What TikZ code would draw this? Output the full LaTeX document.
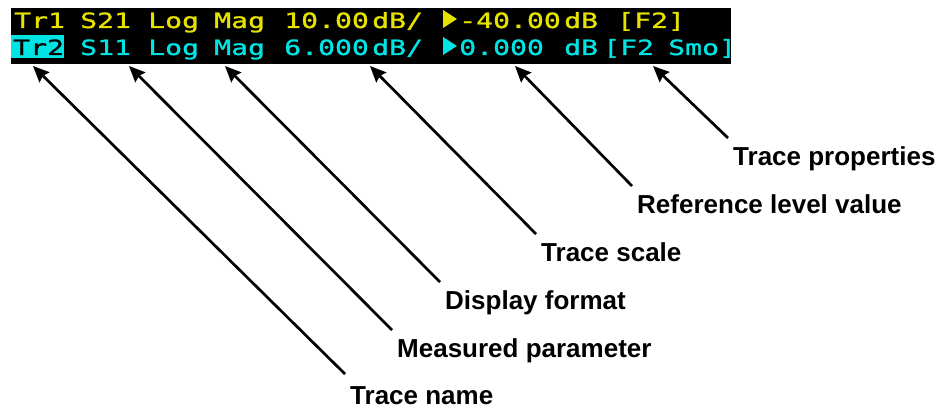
\documentclass[tikz,border=0pt]{standalone}
\usepackage{fontspec}
\setmainfont{Liberation Sans}
\newfontfamily\scrfont[FakeStretch=1.34,FakeBold=1.2]{DejaVu Sans Mono}
\usetikzlibrary{arrows.meta}
\definecolor{scryellow}{RGB}{230,226,0}
\definecolor{scrcyan}{RGB}{0,228,228}
\begin{document}
\begin{tikzpicture}[x=1pt,y=-1pt,
  scr/.style={inner sep=0pt, anchor=base west, font=\scrfont\fontsize{21}{21}\selectfont},
  ylw/.style={scr, text=scryellow},
  cyn/.style={scr, text=scrcyan},
  lbl/.style={inner sep=0pt, anchor=base west, font=\fontsize{26}{26}\selectfont\bfseries},
  arr/.style={line width=2.7pt, -{Stealth[length=16pt,width=14pt,inset=2pt]}}
]
\useasboundingbox (0,0) rectangle (944,409);
% screen bar
\fill[black] (11,8) rectangle (731,64);
% line 1
\node[ylw] (a1) at (14,28) {Tr1};
\node[ylw] (a2) at (80,28) {S21};
\node[ylw] (a3) at (148,28) {Log};
\node[ylw] (a4) at (214,28) {Mag};
\node[ylw] (a5) at (284,28) {10.00};
\node[ylw] (a6) at (372,28) {dB/};
\fill[scryellow] (443,10) -- (457,19) -- (443,28) -- cycle;
\node[ylw] (a7) at (459,28) {-40.00};
\node[ylw] (a8) at (564,28) {dB};
\node[ylw] (a9) at (617,28) {[F2]};
% line 2
\fill[scrcyan] (11,35) rectangle (64,58);
\node[scr, text=black] (b1) at (13,55) {Tr2};
\node[cyn] (b2) at (80,55) {S11};
\node[cyn] (b3) at (148,55) {Log};
\node[cyn] (b4) at (214,55) {Mag};
\node[cyn] (b5) at (284,55) {6.000};
\node[cyn] (b6) at (372,55) {dB/};
\fill[scrcyan] (443,37) -- (457,46) -- (443,55) -- cycle;
\node[cyn] (b7) at (459,55) {0.000};
\node[cyn] (b8) at (564,55) {dB};
\node[cyn] (b9) at (603,55) {[F2};
\node[cyn] (b10) at (668,55) {Smo]};
% labels
\node[lbl] (lp) at (733,165) {Trace properties};
\node[lbl] (lr) at (637,213) {Reference level value};
\node[lbl] (ls) at (541,261) {Trace scale};
\node[lbl] (ld) at (445,309) {Display format};
\node[lbl] (lm) at (397,357) {Measured parameter};
\node[lbl] (ln) at (350,404) {Trace name};
% arrow coordinates
\coordinate (ep) at (728,138); \coordinate (tp) at (653,66);
\coordinate (er) at (632,186); \coordinate (tr) at (515,66);
\coordinate (es) at (536,234); \coordinate (ts) at (370,66);
\coordinate (ed) at (440,282); \coordinate (td) at (225,66);
\coordinate (em) at (392,330); \coordinate (tm) at (129,66);
\coordinate (en) at (345,374); \coordinate (tn) at (33,66);
\draw[arr] (ep) -- (tp);
\draw[arr] (er) -- (tr);
\draw[arr] (es) -- (ts);
\draw[arr] (ed) -- (td);
\draw[arr] (em) -- (tm);
\draw[arr] (en) -- (tn);
\end{tikzpicture}
\end{document}
